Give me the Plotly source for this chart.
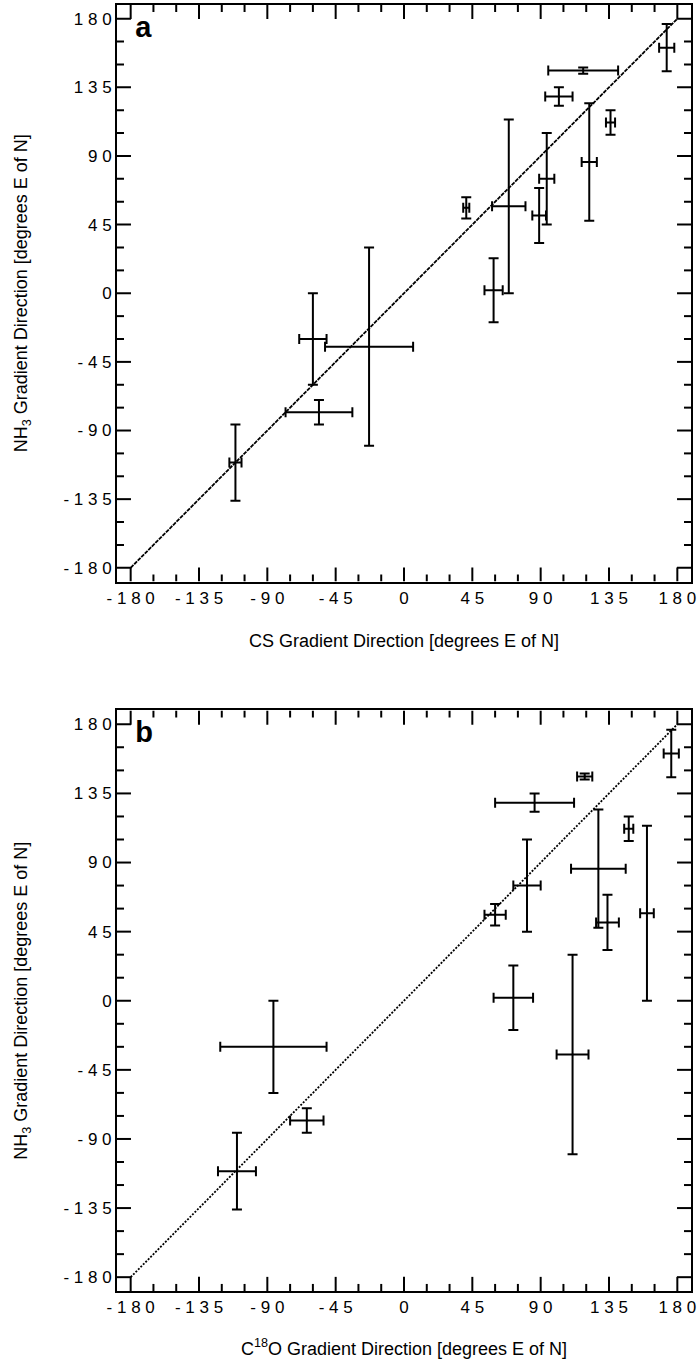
import plotly.graph_objects as go

# NH3 gradient direction (shared by both panels) and its errors
nh3 = [161, 146, 129, 86, 112, 57, 75, 51, 56, 2, -35, -30, -78, -111]
nh3_err = [15.5, 2, 6, 38.5, 8, 57, 30, 18, 7, 21, 65, 30, 8, 25]

# Panel a: CS gradient direction
cs = [173, 118, 102, 122, 136, 69, 94, 89, 41, 59, -23, -60, -56, -111]
cs_err = [5, 23, 9, 5, 3, 11, 5, 4.5, 2, 6, 29, 9, 22, 4]

# Panel b: C18O gradient direction (same NH3 points, same order)
c18o = [176, 119, 86, 128, 148, 160, 81, 134, 60, 72, 111, -86, -64, -110]
c18o_err = [5, 5, 26, 18, 3, 4.5, 9, 7.5, 7, 13, 10.5, 35, 11, 12.5]

# one-to-one reference line
ref_line = [-180, 180]

# axis range, labelled ticks and minor tick step
axis_range = [-189, 189]
tick_vals = [-180, -135, -90, -45, 0, 45, 90, 135, 180]
minor_step = 15

# panel letters and where they sit (data units of each panel)
panel_letters = ["a", "b"]
letter_pos = (-177, 173)

# tick-mark lengths in data units (~14 px and ~7 px)
TICK_MAJOR = 9.2
TICK_MINOR = 4.6


def spaced(v):
    digits = " ".join(str(abs(v)))
    return ("- " + digits) if v < 0 else digits


tick_alias = {}
for v in tick_vals:
    tick_alias[("\u2212" + str(abs(v))) if v < 0 else str(v)] = spaced(v)


def frame_ticks():
    """Inward tick marks on all four sides, built from the axis range."""
    lo, hi = axis_range
    xs, ys = [], []
    v = tick_vals[0]
    while v <= tick_vals[-1]:
        ln = TICK_MAJOR if v in tick_vals else TICK_MINOR
        for (x0, y0, x1, y1) in [(v, lo, v, lo + ln), (v, hi, v, hi - ln),
                                 (lo, v, lo + ln, v), (hi, v, hi - ln, v)]:
            xs += [x0, x1, None]
            ys += [y0, y1, None]
        v += minor_step
    return xs, ys


FONT = "Liberation Sans, Arial, Helvetica, sans-serif"

fig = go.Figure()
tx, ty = frame_ticks()
panels = [(cs, cs_err, "x", "y", "4px,1px", panel_letters[0]),
          (c18o, c18o_err, "x2", "y2", "2px,1.5px", panel_letters[1])]
for xv, xe, xa, ya, dash, letter in panels:
    fig.add_trace(go.Scatter(x=tx, y=ty, mode="lines", line=dict(color="black", width=2),
                             xaxis=xa, yaxis=ya, showlegend=False, hoverinfo="skip"))
    fig.add_trace(go.Scatter(x=ref_line, y=ref_line, mode="lines",
                             line=dict(color="black", width=1.8, dash=dash),
                             xaxis=xa, yaxis=ya, showlegend=False))
    fig.add_trace(go.Scatter(x=xv, y=nh3, mode="markers", marker=dict(size=2, color="black"),
                             error_x=dict(type="data", array=xe, color="black", thickness=2, width=5),
                             error_y=dict(type="data", array=nh3_err, color="black", thickness=2, width=5),
                             xaxis=xa, yaxis=ya, showlegend=False))
    fig.add_trace(go.Scatter(x=[letter_pos[0]], y=[letter_pos[1]], mode="text",
                             text=["<b>" + letter + "</b>"], textposition="middle right",
                             textfont=dict(family=FONT, size=29, color="black"),
                             xaxis=xa, yaxis=ya, showlegend=False))

common = dict(range=axis_range, tickmode="linear", tick0=0, dtick=45, labelalias=tick_alias,
              ticks="", showline=True, linecolor="black", linewidth=2, mirror=True,
              showgrid=False, zeroline=False,
              tickfont=dict(family=FONT, size=17, color="black"),
              ticklabeloverflow="allow")
title_font = dict(family=FONT, size=18, color="black")

fig.update_layout(
    width=699, height=1365, margin=dict(l=117, r=3, t=4, b=74),
    plot_bgcolor="white",
    xaxis=dict(domain=[0, 1], anchor="y",
               title=dict(text="CS Gradient Direction [degrees E of N]", font=title_font, standoff=27),
               **common),
    yaxis=dict(domain=[0.5517, 1], anchor="x",
               title=dict(text="NH<sub>3</sub> Gradient Direction [degrees E of N]", font=title_font, standoff=31),
               **common),
    xaxis2=dict(domain=[0, 1], anchor="y2",
                title=dict(text="C<sup>18</sup>O Gradient Direction [degrees E of N]", font=title_font, standoff=26),
                **common),
    yaxis2=dict(domain=[0, 0.4514], anchor="x2",
                title=dict(text="NH<sub>3</sub> Gradient Direction [degrees E of N]", font=title_font, standoff=31),
                **common),
)
fig.write_html("out.html")
